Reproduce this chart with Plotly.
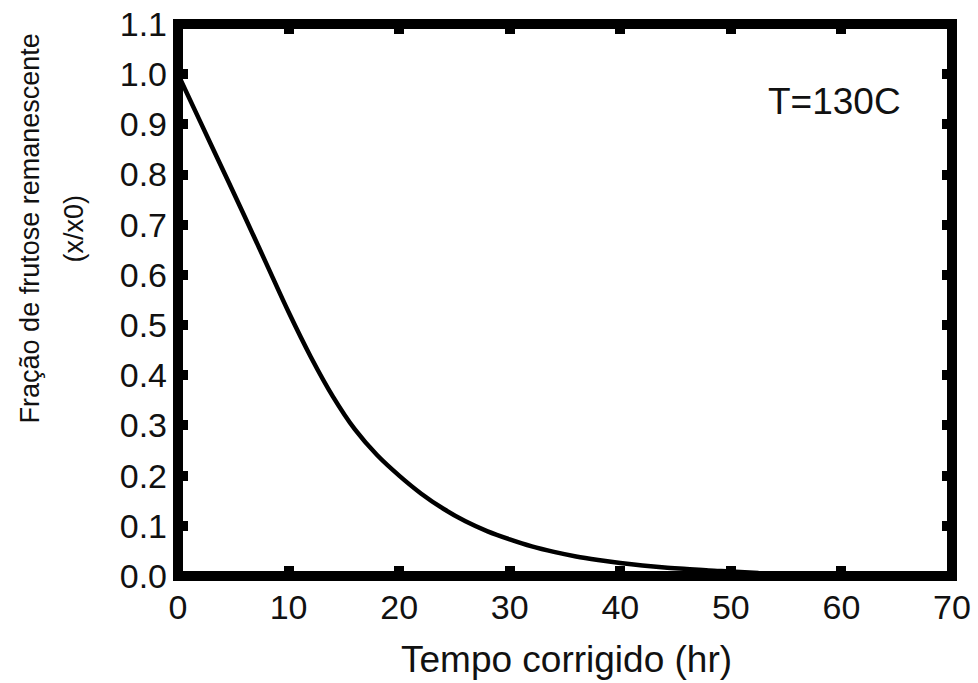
import plotly.graph_objects as go

# Data
time_hr = [0, 2, 4, 6, 8, 10, 12, 14, 16, 18, 20, 22, 24, 26, 28, 30, 32, 34,
           36, 38, 40, 42, 44, 46, 48, 50, 52.5]
fraction = [1.000, 0.906, 0.812, 0.718, 0.622, 0.526, 0.437, 0.358, 0.292,
            0.241, 0.200, 0.164, 0.134, 0.109, 0.089, 0.073, 0.059, 0.048,
            0.039, 0.032, 0.026, 0.021, 0.017, 0.014, 0.011, 0.009, 0.006]

x_ticks = [0, 10, 20, 30, 40, 50, 60, 70]
y_ticks = [0.0, 0.1, 0.2, 0.3, 0.4, 0.5, 0.6, 0.7, 0.8, 0.9, 1.0, 1.1]
y_tick_text = [f"{v:.1f}" for v in y_ticks]

x_title = "Tempo corrigido (hr)"
y_title_1 = "Fração de frutose remanescente"
y_title_2 = "(x/x0)"
label_T = "T=130C"

FONT = "Liberation Sans, Arial, sans-serif"
TXT = "#111111"

fig = go.Figure()
fig.add_trace(go.Scatter(
    x=time_hr, y=fraction, mode="lines",
    line=dict(color="black", width=4.5, shape="spline", smoothing=1.0),
    showlegend=False, hoverinfo="skip",
))

axis_common = dict(
    showgrid=False, zeroline=False, showline=False,
    ticks="inside", ticklen=10, tickwidth=10, tickcolor="black",
    mirror="ticks",
    tickfont=dict(family=FONT, size=34, color=TXT),
)

fig.update_xaxes(range=[0, 70], tickvals=x_ticks, ticktext=[str(v) for v in x_ticks],
                 ticklabelstandoff=8, **axis_common)
fig.update_yaxes(range=[0, 1.1], tickvals=y_ticks, ticktext=y_tick_text,
                 ticklabelstandoff=10, **axis_common)

# Thick frame centered on the plot-area edges
fig.add_shape(type="rect", xref="paper", yref="paper", x0=0, y0=0, x1=1, y1=1,
              line=dict(color="black", width=10), layer="above")

fig.add_annotation(text=label_T, xref="paper", yref="paper",
                   x=(835 - 178.4) / 774.1, y=(576.5 - 102) / 552.5,
                   xanchor="center", yanchor="middle", showarrow=False,
                   font=dict(family=FONT, size=37, color=TXT))

fig.add_annotation(text=x_title, xref="paper", yref="paper",
                   x=(567 - 178.4) / 774.1, y=0, yshift=-(660 - 576.5),
                   xanchor="center", yanchor="middle", showarrow=False,
                   font=dict(family=FONT, size=37, color=TXT))

y_center = (576.5 - 229) / 552.5
fig.add_annotation(text=y_title_1, xref="paper", yref="paper",
                   x=0, y=y_center, xshift=30 - 178.4, textangle=-90,
                   xanchor="center", yanchor="middle", showarrow=False,
                   font=dict(family=FONT, size=27, color=TXT))
fig.add_annotation(text=y_title_2, xref="paper", yref="paper",
                   x=0, y=y_center, xshift=74 - 178.4, textangle=-90,
                   xanchor="center", yanchor="middle", showarrow=False,
                   font=dict(family=FONT, size=27, color=TXT))

fig.update_layout(
    width=978, height=683,
    margin=dict(l=178.4, r=25.5, t=24, b=106.5, autoexpand=False),
    paper_bgcolor="white", plot_bgcolor="white",
)

fig.write_html("out.html")
